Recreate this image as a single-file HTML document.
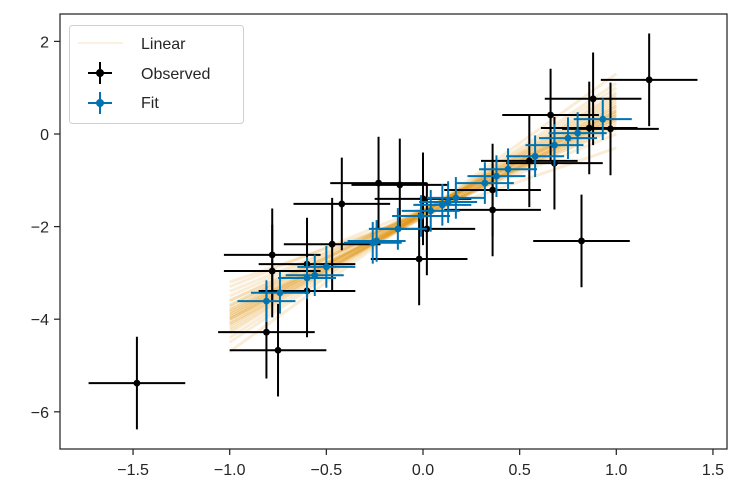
<!DOCTYPE html>
<html><head><meta charset="utf-8"><style>
body{margin:0;background:#fff}
svg{display:block;font-family:"Liberation Sans",sans-serif}
</style></head><body>
<svg id="chart" width="742" height="502">
<rect width="742" height="502" fill="#fff"/>
<g id="lines"></g>
<g id="obs"></g>
<g id="fit"></g>
<rect x="60" y="14" width="667" height="435" fill="none" stroke="#262626" stroke-width="1.25"/>
<g id="xt"></g>
<g id="yt"></g>
<g>
<rect x="69.5" y="25.5" width="174" height="98" rx="3" fill="#fff" fill-opacity="0.85" stroke="#d0d0d0"/>
<line x1="78" y1="43" x2="123" y2="43" stroke="#de8f05" stroke-opacity="0.12" stroke-width="2"/>
<text x="141" y="49" font-size="16" fill="#262626">Linear</text>
<g stroke="#000" stroke-width="2"><line x1="88" y1="73" x2="112" y2="73"/><line x1="100" y1="62" x2="100" y2="84"/><circle cx="100" cy="73" r="3" fill="#000"/></g>
<text x="141" y="79" font-size="16" fill="#262626">Observed</text>
<g stroke="#0173b2" stroke-width="2"><line x1="88" y1="103" x2="112" y2="103"/><line x1="100" y1="92" x2="100" y2="114"/><circle cx="100" cy="103" r="3" fill="#0173b2"/></g>
<text x="141" y="108" font-size="16" fill="#262626">Fit</text>
</g>
</svg>
<script>
const obsX=[-1.48,-0.78,-0.78,-0.81,-0.75,-0.60,-0.60,-0.47,-0.42,-0.23,-0.12,0.00,0.02,-0.02,0.36,0.36,0.55,0.68,0.66,0.88,0.86,0.97,1.17,0.82];
const obsY=[-5.38,-2.61,-2.96,-4.28,-4.67,-2.81,-3.39,-2.38,-1.51,-1.06,-1.10,-1.40,-2.05,-2.70,-1.21,-1.64,-0.58,-0.63,0.41,0.76,0.13,0.11,1.17,-2.31];
const obsXerr=0.25, obsYerr=1.0;
const fitX=[-0.81,-0.74,-0.60,-0.56,-0.50,-0.26,-0.24,-0.13,-0.01,0.04,0.10,0.13,0.17,0.32,0.38,0.44,0.58,0.68,0.75,0.80,0.93];
const fitY=[-3.61,-3.43,-3.11,-3.05,-2.87,-2.35,-2.31,-2.05,-1.77,-1.66,-1.53,-1.47,-1.38,-1.06,-0.91,-0.76,-0.48,-0.24,-0.09,0.02,0.32];
const fitXerr=0.15, fitYerr=0.45;
const lineStartY=[-3.2,-3.4,-3.5,-3.6,-3.7,-3.75,-3.8,-3.85,-3.9,-3.95,-4.0,-4.05,-4.1,-4.2,-4.3,-4.4,-4.5,-4.7,-3.3,-3.9,-4.0,-3.8,-4.15,-3.7,-3.85,-3.95,-4.1,-4.25,-3.6,-4.0];
const lineEndY=[-0.3,0.0,0.2,0.3,0.4,0.45,0.5,0.35,0.55,0.6,0.4,0.7,0.5,0.8,0.9,1.0,1.1,1.3,0.1,0.3,0.65,0.25,0.75,0.45,0.35,0.5,0.6,0.85,0.15,0.4];
const xTicks=[-1.5,-1.0,-0.5,0.0,0.5,1.0,1.5];
const yTicks=[2,0,-2,-4,-6];
const sx=v=>423+v*193.3, sy=v=>134-v*46.3;
const NS="http://www.w3.org/2000/svg";
function mk(p,t,a){const e=document.createElementNS(NS,t);for(const k in a)e.setAttribute(k,a[k]);p.appendChild(e);return e;}
const L=document.getElementById('lines');
lineStartY.forEach((y0,i)=>{const l=mk(L,'line',{x1:sx(-1),y1:sy(y0),x2:sx(1),y2:sy(lineEndY[i]),stroke:'#de8f05','stroke-opacity':0.16,'stroke-width':3});

});
function eb(g,xs,ys,xe,ye,c,name){xs.forEach((x,i)=>{const y=ys[i];const p=mk(g,'g',{stroke:c,'stroke-width':2});


mk(p,'line',{x1:sx(x-xe),y1:sy(y),x2:sx(x+xe),y2:sy(y)});
mk(p,'line',{x1:sx(x),y1:sy(y-ye),x2:sx(x),y2:sy(y+ye)});
mk(p,'circle',{cx:sx(x),cy:sy(y),r:3.4,fill:c,stroke:'none'});});}
eb(document.getElementById('obs'),obsX,obsY,obsXerr,obsYerr,'#000','observed-point');
eb(document.getElementById('fit'),fitX,fitY,fitXerr,fitYerr,'#0173b2','fit-point');
const XT=document.getElementById('xt');
xTicks.forEach(v=>{const x=sx(v);mk(XT,'line',{x1:x,y1:449,x2:x,y2:455,stroke:'#262626','stroke-width':1.25});
const t=mk(XT,'text',{x:x,y:475,'font-size':16,'text-anchor':'middle',fill:'#262626'});t.textContent=(v<0?'\u2212':'')+Math.abs(v).toFixed(1);

});
const YT=document.getElementById('yt');
yTicks.forEach(v=>{const y=sy(v);mk(YT,'line',{x1:54,y1:y,x2:60,y2:y,stroke:'#262626','stroke-width':1.25});
const t=mk(YT,'text',{x:49,y:y+6,'font-size':16,'text-anchor':'end',fill:'#262626'});t.textContent=(v<0?'\u2212':'')+Math.abs(v);

});
</script>
</body></html>
